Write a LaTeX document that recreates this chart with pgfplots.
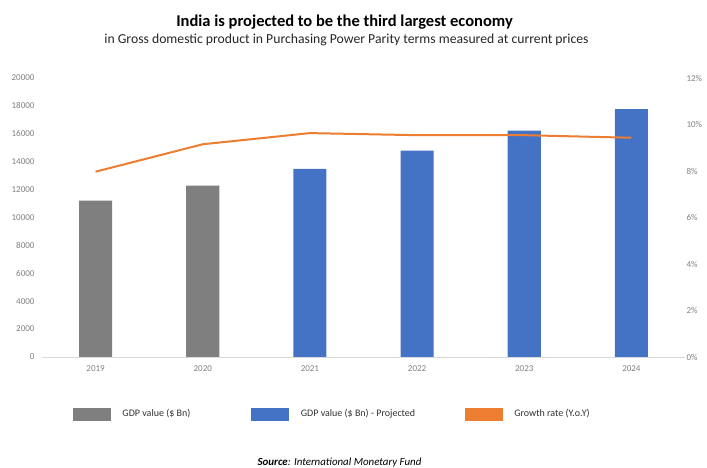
\documentclass[border=0pt]{standalone}
\usepackage{pgfplots}
\pgfplotsset{compat=1.18}
\usepackage{fontspec}
\setmainfont{Carlito}

\definecolor{gdpgray}{HTML}{7F7F7F}
\definecolor{gdpblue}{HTML}{4472C4}
\definecolor{growth}{HTML}{ED7D31}
\definecolor{ticktext}{HTML}{808080}
\definecolor{axisgray}{HTML}{D9D9D9}

\begin{document}
\begin{tikzpicture}[x=1pt,y=1pt]
\useasboundingbox (-42,-111) rectangle (665,357);

\begin{axis}[
    at={(0,0)}, anchor=south west,
    scale only axis,
    width=643pt, height=279pt,
    xmin=-0.5, xmax=5.5,
    ymin=0, ymax=20000,
    xtick={0,1,2,3,4,5},
    xticklabels={2019,2020,2021,2022,2023,2024},
    ytick={0,2000,...,20000},
    scaled y ticks=false,
    axis x line*=bottom,
    axis y line*=left,
    x axis line style={draw=axisgray, line width=0.8pt, -},
    y axis line style={draw=none},
    major tick length=0pt,
    tick label style={font=\fontsize{9}{10}\selectfont, text=ticktext},
    /pgf/number format/assume math mode=true,
    yticklabel style={xshift=-4pt, /pgf/number format/fixed, /pgf/number format/1000 sep={}},
    xticklabel style={yshift=-5pt},
    legend columns=3,
    legend style={at={(0.048,-0.2043)}, anchor=west, draw=none, fill=none,
        inner sep=0pt, font=\fontsize{10}{12}\selectfont, text=black!80,
        /tikz/every odd column/.append style={column sep=10pt},
        /tikz/every even column/.append style={column sep=0pt}},
    legend cell align=left,
]
\addplot[ybar, bar width=33pt, bar shift=0pt, fill=gdpgray, draw=none, forget plot]
    coordinates {(0,11205)(1,12280)};
\addplot[ybar, bar width=33pt, bar shift=0pt, fill=gdpblue, draw=none, forget plot]
    coordinates {(2,13480)(3,14790)(4,16220)(5,17760)};

\addlegendimage{legend image code/.code={\fill[gdpgray] (0pt,-6pt) rectangle (37pt,6pt);}}
\addlegendentry{\makebox[127pt][l]{GDP value (\$ Bn)}}
\addlegendimage{legend image code/.code={\fill[gdpblue] (0pt,-6pt) rectangle (37pt,6pt);}}
\addlegendentry{\makebox[162pt][l]{GDP value (\$ Bn) - Projected}}
\addlegendimage{legend image code/.code={\fill[growth] (0pt,-6pt) rectangle (37pt,6pt);}}
\addlegendentry{Growth rate (Y.o.Y)}
\end{axis}

\begin{axis}[
    at={(0,0)}, anchor=south west,
    scale only axis,
    width=643pt, height=279pt,
    xmin=-0.5, xmax=5.5,
    ymin=0, ymax=12,
    ytick={0,2,...,12},
    hide x axis,
    axis y line*=right,
    y axis line style={draw=none},
    major tick length=0pt,
    tick label style={font=\fontsize{9}{10}\selectfont, text=ticktext},
    /pgf/number format/assume math mode=true,
    yticklabel={\pgfmathprintnumber{\tick}\%},
    yticklabel style={xshift=-2pt},
]
\addplot[color=growth, line width=2pt, mark=none]
    coordinates {(0,7.97)(1,9.15)(2,9.63)(3,9.54)(4,9.54)(5,9.43)};
\end{axis}

\node[font=\bfseries\fontsize{16.5}{19}\selectfont] at (302.5,335) {India is projected to be the third largest economy};
\node[font=\fontsize{13.7}{16}\selectfont, text=black!85] at (304.5,317) {in Gross domestic product in Purchasing Power Parity terms measured at current prices};
\node[font=\itshape\fontsize{10.9}{13}\selectfont] at (297.5,-106) {\textbf{Source}: International Monetary Fund};
\end{tikzpicture}
\end{document}
